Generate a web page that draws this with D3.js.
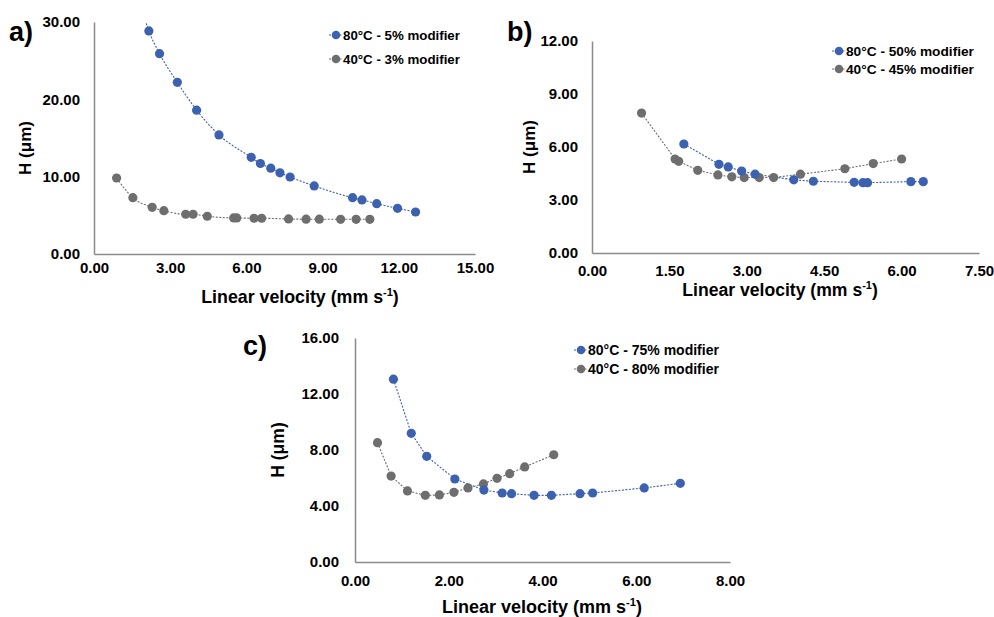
<!DOCTYPE html>
<html>
<head>
<meta charset="utf-8">
<script src="https://cdn.jsdelivr.net/npm/d3@7/dist/d3.min.js"></script>
<style>
  body { margin: 0; background: #fff; }
  text { font-family: "Liberation Sans", Arial, sans-serif; font-weight: bold; fill: #000; }
</style>
</head>
<body>
<div id="vis"></div>
<script>
var width = 994, height = 617;

// panel a) 80°C - 5% / 40°C - 3%
var aBlueX = [1.85, 2.16, 2.58, 3.28, 4.04, 4.92, 6.19, 6.55, 6.96, 7.32, 7.72, 8.67, 10.18, 10.55, 11.13, 11.95, 12.66];
var aBlueY = [32.0, 28.85, 25.9, 22.2, 18.6, 15.4, 12.5, 11.7, 11.1, 10.5, 9.96, 8.8, 7.28, 6.99, 6.51, 5.91, 5.43];
var aGrayX = [0.89, 1.53, 2.29, 2.75, 3.61, 3.90, 4.46, 5.50, 5.62, 6.30, 6.60, 7.66, 8.35, 8.87, 9.71, 10.32, 10.86];
var aGrayY = [9.83, 7.28, 6.04, 5.60, 5.14, 5.14, 4.88, 4.66, 4.66, 4.62, 4.62, 4.53, 4.50, 4.50, 4.49, 4.49, 4.49];

// panel b) 80°C - 50% / 40°C - 45%
var bBlueX = [1.78, 2.46, 2.64, 2.90, 3.16, 3.91, 4.29, 5.08, 5.25, 5.34, 6.18, 6.42];
var bBlueY = [6.17, 5.02, 4.87, 4.64, 4.46, 4.14, 4.06, 4.00, 3.98, 3.98, 4.04, 4.04];
var bGrayX = [0.96, 1.61, 1.68, 2.05, 2.44, 2.71, 2.95, 3.24, 3.52, 4.04, 4.90, 5.45, 6.00];
var bGrayY = [7.92, 5.32, 5.19, 4.68, 4.42, 4.31, 4.27, 4.27, 4.27, 4.46, 4.77, 5.06, 5.32];

// panel c) 80°C - 75% / 40°C - 80%
var cBlueX = [0.82, 1.20, 1.53, 2.13, 2.75, 3.14, 3.34, 3.82, 4.19, 4.80, 5.07, 6.17, 6.94];
var cBlueY = [13.06, 9.19, 7.55, 5.93, 5.14, 4.93, 4.88, 4.76, 4.76, 4.88, 4.93, 5.29, 5.62];
var cGrayX = [0.48, 0.77, 1.12, 1.50, 1.80, 2.11, 2.41, 2.74, 3.03, 3.30, 3.62, 4.24];
var cGrayY = [8.52, 6.14, 5.08, 4.76, 4.79, 4.98, 5.29, 5.58, 5.98, 6.31, 6.79, 7.66];

var aXTicks = [0, 3, 6, 9, 12, 15], aYTicks = [0, 10, 20, 30];
var bXTicks = [0, 1.5, 3, 4.5, 6, 7.5], bYTicks = [0, 3, 6, 9, 12];
var cXTicks = [0, 2, 4, 6, 8], cYTicks = [0, 4, 8, 12, 16];

var aNames = ["80°C - 5% modifier", "40°C - 3% modifier"];
var bNames = ["80°C - 50% modifier", "40°C - 45% modifier"];
var cNames = ["80°C - 75% modifier", "40°C - 80% modifier"];

var blue = "#3c61b1";
var gray = "#6e6e6e";

var svg = d3.select("#vis")
  .append("svg")
  .attr("width", width)
  .attr("height", height);

var zip = (xs, ys) => xs.map((x, i) => ({ x: x, y: ys[i] }));

function drawPanel(p) {
  var x = d3.scaleLinear().domain([p.xTicks[0], p.xTicks[p.xTicks.length - 1]]).range([p.left, p.right]);
  var y = d3.scaleLinear().domain([p.yTicks[0], p.yTicks[p.yTicks.length - 1]]).range([p.bottom, p.top]);
  var g = svg.append("g").attr("class", "panel-" + p.id);

  g.append("clipPath").attr("id", "clip-" + p.id)
    .append("rect")
    .attr("x", p.left).attr("y", p.top)
    .attr("width", p.right - p.left).attr("height", p.bottom - p.top);

  // axes, no tick marks
  var yAxis = g.append("g")
    .attr("transform", "translate(" + p.left + ",0)")
    .call(d3.axisLeft(y).tickValues(p.yTicks).tickSize(0).tickPadding(p.yPad).tickFormat(d3.format(".2f")));
  var xAxis = g.append("g")
    .attr("transform", "translate(0," + p.bottom + ")")
    .call(d3.axisBottom(x).tickValues(p.xTicks).tickSize(0).tickPadding(p.xPad).tickFormat(d3.format(".2f")));
  [xAxis, yAxis].forEach(a => {
    a.select(".domain").attr("stroke", "#8a8a8a").attr("stroke-width", 1.5);
    a.selectAll("text").attr("font-size", p.tickSize + "px").attr("font-family", "Liberation Sans, Arial, sans-serif").attr("font-weight", "bold").attr("fill", "#000");
  });

  var series = [
    { pts: zip(p.blueX, p.blueY), color: blue, name: p.names[0] },
    { pts: zip(p.grayX, p.grayY), color: gray, name: p.names[1] }
  ];

  var line = d3.line().x(d => x(d.x)).y(d => y(d.y)).curve(p.curve || d3.curveLinear);

  series.slice().reverse().forEach(s => {
    g.append("path")
      .datum(s.pts)
      .attr("clip-path", "url(#clip-" + p.id + ")")
      .attr("d", line)
      .attr("fill", "none")
      .attr("stroke", s.color)
      .attr("stroke-width", 1.1)
      .attr("stroke-dasharray", "2,1.5");
  });
  series.slice().reverse().forEach(s => {
    g.selectAll(null)
      .data(s.pts.filter(d => d.y <= y.domain()[1]))
      .enter()
      .append("circle")
      .attr("cx", d => x(d.x))
      .attr("cy", d => y(d.y))
      .attr("r", 4.6)
      .attr("fill", s.color);
  });

  // legend
  series.forEach((s, i) => {
    var ly = p.legY + i * p.legGap;
    g.append("line")
      .attr("x1", p.legX - 7).attr("x2", p.legX + 7)
      .attr("y1", ly).attr("y2", ly)
      .attr("stroke", s.color).attr("stroke-width", 1.1).attr("stroke-dasharray", "2,1.5");
    g.append("circle").attr("cx", p.legX).attr("cy", ly).attr("r", 4.3).attr("fill", s.color);
    g.append("text")
      .attr("x", p.legX + 7)
      .attr("y", ly)
      .attr("dy", "0.36em")
      .attr("font-size", p.legSize + "px")
      .text(s.name);
  });

  // axis titles
  var xt = g.append("text")
    .attr("x", p.xTitle[0]).attr("y", p.xTitle[1])
    .attr("text-anchor", "middle")
    .attr("font-size", p.titleSize + "px")
    .text("Linear velocity (mm s");
  xt.append("tspan").attr("font-size", (p.titleSize * 0.62) + "px").attr("dy", -p.titleSize * 0.38).text("-1");
  xt.append("tspan").attr("dy", p.titleSize * 0.38).text(")");

  g.append("text")
    .attr("transform", "translate(" + p.yTitle[0] + "," + p.yTitle[1] + ") rotate(-90)")
    .attr("text-anchor", "middle")
    .attr("dy", "0.36em")
    .attr("font-size", p.ySize + "px")
    .text("H (μm)");

  g.append("text")
    .attr("x", p.letter[0]).attr("y", p.letter[1])
    .attr("font-size", "27px")
    .text(p.id + ")");
}

drawPanel({
  id: "a", left: 94, right: 475, top: 22, bottom: 254,
  xTicks: aXTicks, yTicks: aYTicks,
  blueX: aBlueX, blueY: aBlueY, grayX: aGrayX, grayY: aGrayY, names: aNames,
  curve: d3.curveMonotoneX,
  tickSize: 15, yPad: 14, xPad: 8,
  legX: 336, legY: 35, legGap: 24, legSize: 13.3,
  xTitle: [300, 303], titleSize: 17.8,
  yTitle: [25, 148], ySize: 17,
  letter: [9, 41]
});

drawPanel({
  id: "b", left: 592, right: 979, top: 41, bottom: 253,
  xTicks: bXTicks, yTicks: bYTicks,
  blueX: bBlueX, blueY: bBlueY, grayX: bGrayX, grayY: bGrayY, names: bNames,
  tickSize: 15, yPad: 14, xPad: 12,
  legX: 839, legY: 51, legGap: 18, legSize: 13.7,
  xTitle: [780, 296], titleSize: 17.6,
  yTitle: [529, 147], ySize: 17,
  letter: [507, 41]
});

drawPanel({
  id: "c", left: 355, right: 730, top: 338, bottom: 562,
  xTicks: cXTicks, yTicks: cYTicks,
  blueX: cBlueX, blueY: cBlueY, grayX: cGrayX, grayY: cGrayY, names: cNames,
  tickSize: 15, yPad: 16, xPad: 13,
  legX: 581, legY: 350, legGap: 19, legSize: 14,
  xTitle: [542, 613], titleSize: 18,
  yTitle: [278, 450], ySize: 17.5,
  letter: [243, 355]
});
</script>
</body>
</html>
